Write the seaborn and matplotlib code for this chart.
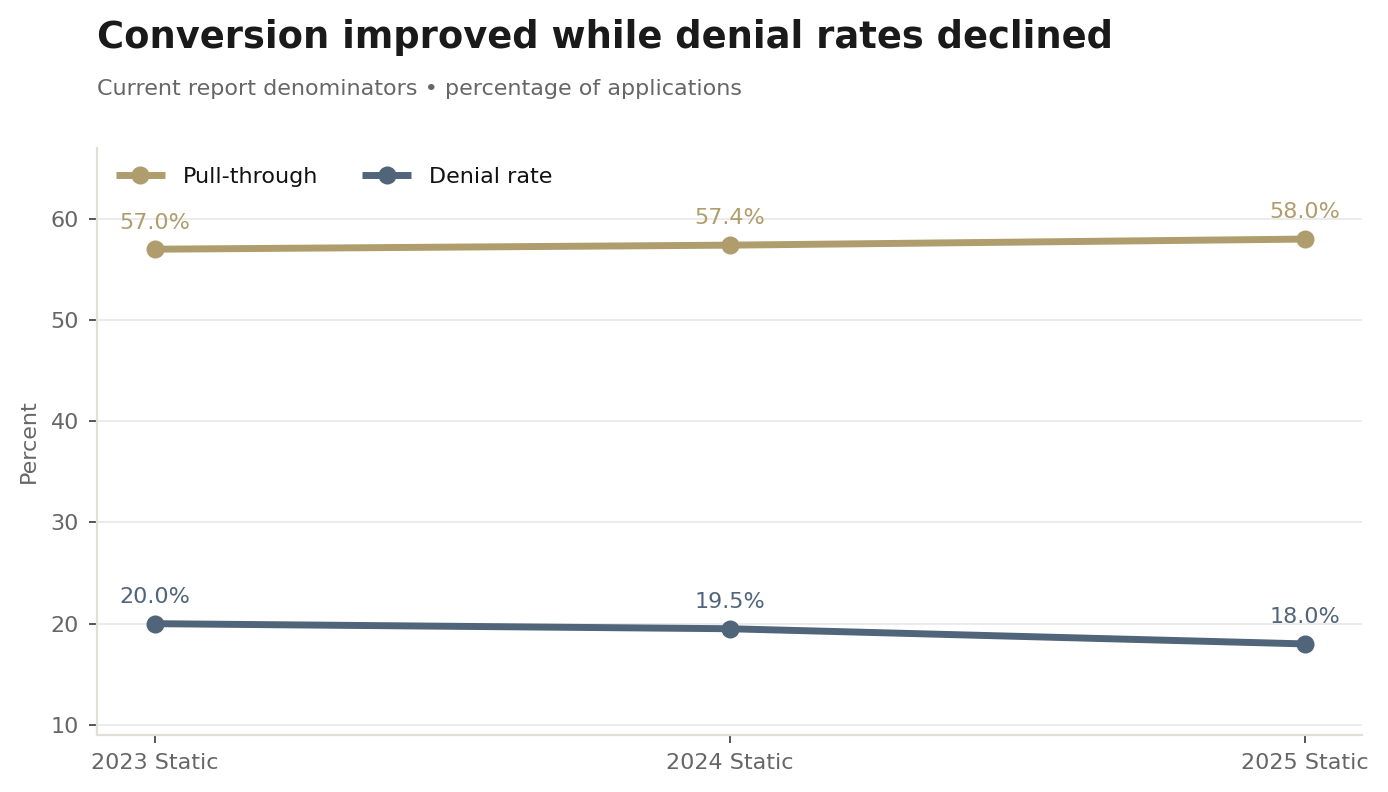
import matplotlib
matplotlib.use("Agg")
import matplotlib.pyplot as plt
import seaborn as sns
import pandas as pd

categories = ["2023 Static", "2024 Static", "2025 Static"]
pull_through = [57.0, 57.4, 58.0]
denial_rate = [20.0, 19.5, 18.0]
series_names = ["Pull-through", "Denial rate"]
colors = ["#b09d6e", "#50657a"]

sns.set_theme(style="white")
plt.rcParams['font.family'] = ['DejaVu Sans']

fig = plt.figure(figsize=(6.94, 3.96), dpi=200)
ax = fig.add_axes([97/1388, 1-735/792, (1362-97)/1388, (735-148)/792])

df = pd.DataFrame({
    "x": list(range(len(categories))) * 2,
    "value": pull_through + denial_rate,
    "series": [series_names[0]] * 3 + [series_names[1]] * 3,
})

for name, col, vals in zip(series_names, colors, [pull_through, denial_rate]):
    sub = df[df.series == name]
    sns.lineplot(data=sub, x="x", y="value", ax=ax, color=col, linewidth=2.5,
                 marker="o", markersize=6.5, markeredgewidth=0, label=name)
    for xi, v in zip(sub.x, sub.value):
        ax.annotate(f"{v:.1f}%", (xi, v), xytext=(0, 6), textcoords="offset points",
                    ha="center", va="bottom", color=col, fontsize=8)

ax.set_xlim(-0.1, 2.1)
ax.set_ylim(9, 67)
ax.set_xticks(range(len(categories)))
ax.set_xticklabels(categories)
ax.set_yticks([10, 20, 30, 40, 50, 60])
ax.set_xlabel("")
ax.set_ylabel("Percent", color="#666666", fontsize=8)
ax.tick_params(axis="both", colors="#555555", labelcolor="#666666", labelsize=8,
               length=3, width=0.7, left=True, bottom=True)
ax.grid(axis="y", color="#e8e8e8", linewidth=0.6)
ax.set_axisbelow(True)
for s in ["top", "right"]:
    ax.spines[s].set_visible(False)
for s in ["left", "bottom"]:
    ax.spines[s].set_color("#e2dfd8")
    ax.spines[s].set_linewidth(0.8)

leg = ax.legend(loc="upper left", ncol=2, frameon=False, fontsize=8,
                handlelength=2.2, columnspacing=2.0, borderaxespad=0.45,
                labelcolor="#111111")
for h in leg.get_lines():
    h.set_solid_capstyle("butt")

fig.text(97/1388, 1-37/792, "Conversion improved while denial rates declined",
         fontsize=13.3, fontweight="bold", color="#1a1a1a", ha="left", va="center")
fig.text(97/1388, 1-89/792, "Current report denominators \u2022 percentage of applications",
         fontsize=8, color="#666666", ha="left", va="center")

fig.savefig("out.png", dpi=200)
